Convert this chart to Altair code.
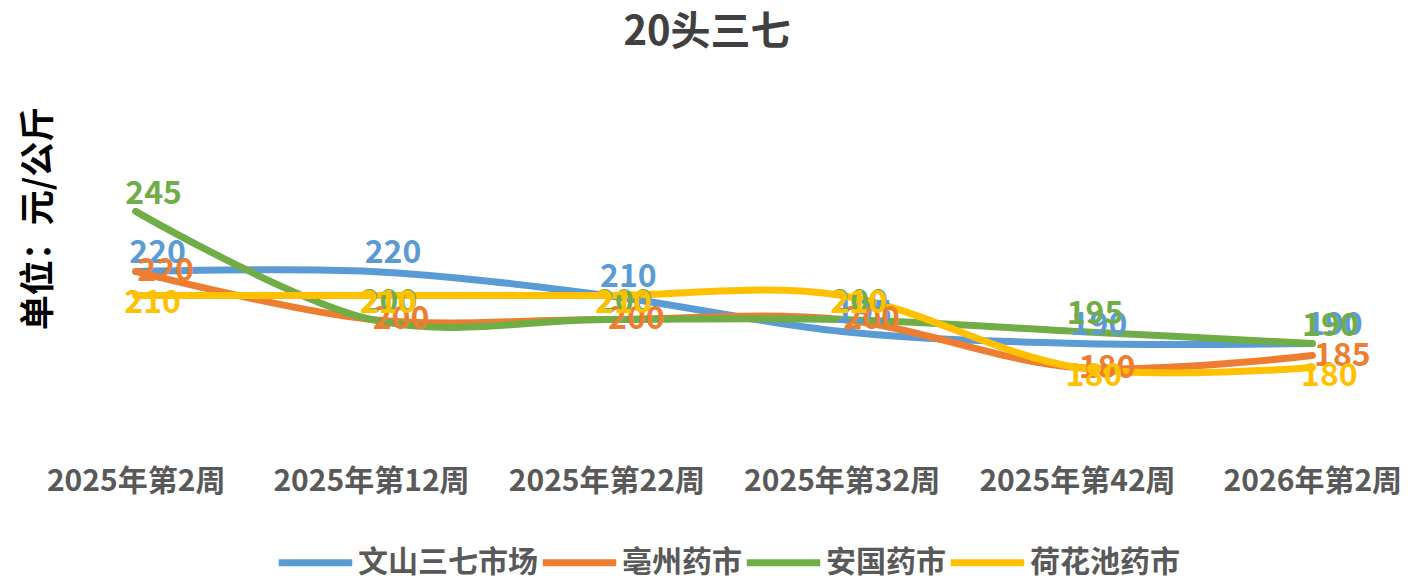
import altair as alt
import pandas as pd

weeks = ["2025年第2周", "2025年第12周", "2025年第22周", "2025年第32周", "2025年第42周", "2026年第2周"]
series_names = ["文山三七市场", "亳州药市", "安国药市", "荷花池药市"]
wenshan = [220, 220, 210, 195, 190, 190]
bozhou = [220, 200, 200, 200, 180, 185]
anguo = [245, 200, 200, 200, 195, 190]
hehuachi = [210, 210, 210, 210, 180, 180]
colors = ["#5B9BD5", "#ED7D31", "#70AD47", "#FFC000"]

rows = []
for name, vals in zip(series_names, [wenshan, bozhou, anguo, hehuachi]):
    for w, v in zip(weeks, vals):
        rows.append({"week": w, "market": name, "price": v})
df = pd.DataFrame(rows)

FONT = "Noto Sans CJK SC"

x = alt.X(
    "week:N", sort=weeks,
    scale=alt.Scale(type="point", padding=0.33),
    axis=alt.Axis(title=None, labelAngle=0, ticks=False, domain=False, grid=False,
                  labelFontSize=30, labelFont=FONT, labelFontWeight="bold",
                  labelColor="#595959", labelPadding=12, labelLimit=0),
)
y = alt.Y(
    "price:Q",
    scale=alt.Scale(domain=[144, 308], nice=False, zero=False),
    axis=alt.Axis(title="单位：元/公斤", labels=False, ticks=False, domain=False, grid=False,
                  titleFontSize=35, titleFont=FONT, titleFontWeight="bold",
                  titleColor="#000000", titlePadding=2, titleY=158),
)
color = alt.Color(
    "market:N",
    scale=alt.Scale(domain=series_names, range=colors),
    sort=series_names,
    legend=alt.Legend(title=None, orient="none", legendX=217, legendY=462,
                      direction="horizontal", symbolType="stroke", symbolSize=5400,
                      symbolStrokeWidth=7, labelFontSize=30, labelFont=FONT,
                      labelFontWeight="bold", labelColor="#595959", columnPadding=-10,
                      labelOffset=2, labelLimit=0),
)

base = alt.Chart(df)
lines = base.mark_line(interpolate="cardinal", strokeWidth=7, strokeCap="round").encode(
    x=x, y=y, color=color, order=alt.Order("market:N")
)

offsets = {
    "文山三七市场": (22, -18),
    "亳州药市": (30, 0),
    "安国药市": (18, -17),
    "荷花池药市": (17, 8),
}
texts = []
for name, col in zip(series_names, colors):
    dx, dy = offsets[name]
    texts.append(
        base.transform_filter(alt.datum.market == name)
        .mark_text(dx=dx, dy=dy, fontSize=32, font=FONT, fontWeight="bold", color=col)
        .encode(x=x, y=y, text=alt.Text("price:Q"))
    )

chart = alt.layer(lines, *texts).properties(
    width=1332, height=394,
    title=alt.TitleParams("20头三七", fontSize=40, font=FONT, fontWeight="bold",
                          color="#404040", anchor="middle", dx=-17, offset=7),
    autosize=alt.AutoSizeParams(type="none"),
    padding={"left": 50, "top": 52, "right": 20, "bottom": 128},
).configure(background="white").configure_view(stroke=None, strokeWidth=0)

chart.save("out.html", embed_options={"renderer": "svg", "actions": False})
